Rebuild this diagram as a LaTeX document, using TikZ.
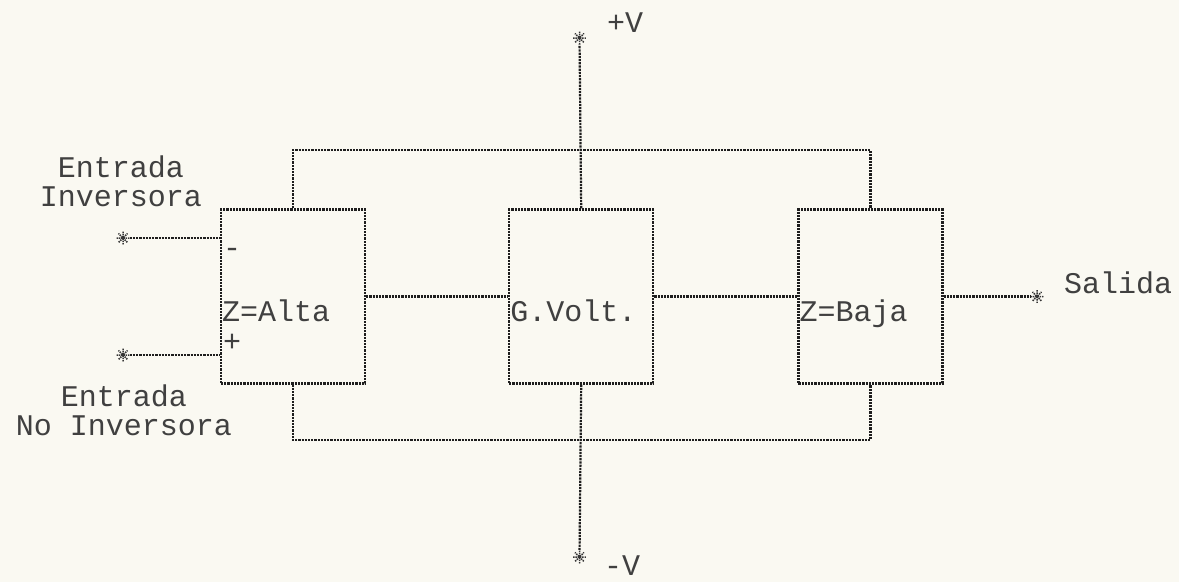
\documentclass[tikz,border=0pt]{standalone}
\usepackage{fontspec}
\setmonofont{Liberation Mono}
\usepackage{xcolor}
\usepackage{tikz}
\usetikzlibrary{positioning}
\definecolor{papel}{RGB}{250,249,242}
\definecolor{tinta}{RGB}{30,30,30}
\tikzset{
        linea/.style={tinta, line width=2.2pt, dash pattern=on 2.2pt off 1pt}, % dotted printer line
        borne/.style={circle, inner sep=0pt, minimum size=13pt, % terminal mark
            path picture={
                \draw[tinta!90, line width=1.5pt, dash pattern=on 1.5pt off 0.8pt]
                    (path picture bounding box.0) -- (path picture bounding box.180)
                    (path picture bounding box.45) -- (path picture bounding box.225)
                    (path picture bounding box.90) -- (path picture bounding box.270)
                    (path picture bounding box.135) -- (path picture bounding box.315);
            }},
        texto/.style={tinta!85, inner sep=0pt, font=\ttfamily\fontsize{30}{29}\selectfont, align=center},
    }
\tikzstyle{bloque}=[linea,draw,minimum width=144pt,minimum height=174pt,inner sep=0pt]

\begin{document}
\begin{tikzpicture}[x=1pt,y=-1pt]
    \fill[papel] (0,0) rectangle (1179,582);
    \useasboundingbox (0,0) rectangle (1179,582);

    % the three stages
    \node[bloque] (alta) at (293,296.5) {};
    \node[bloque, right=142pt of alta] (volt) {};
    \node[bloque, right=143pt of volt] (baja) {};
    \node[texto, anchor=base west, xshift=2pt, yshift=-25pt] (talta) at (alta.west) {Z=Alta};
    \node[texto, anchor=base west, xshift=2pt, yshift=-25pt] (tvolt) at (volt.west) {G.Volt.};
    \node[texto, anchor=base west, xshift=2pt, yshift=-25pt] (tbaja) at (baja.west) {Z=Baja};
    \node[texto, anchor=west, xshift=3pt, yshift=43.5pt] (menos) at (alta.west) {-};
    \node[texto, anchor=west, xshift=3pt, yshift=-46pt] (mas) at (alta.west) {+};

    % terminals
    \node[borne] (inv) at (123,238) {};
    \node[borne] (noinv) at (123,355) {};
    \node[borne] (sal) at (1037,296.5) {};
    \node[borne] (vmas) at (579.5,38) {};
    \node[borne] (vmenos) at (579.5,557) {};
    \coordinate (barrasup) at (579.5,150);
    \coordinate (barrainf) at (579.5,440);

    % labels
    \node[texto] (lbinv) at (121,181) {Entrada\\Inversora};
    \node[texto] (lbnoinv) at (124,410.5) {Entrada\\No Inversora};
    \node[texto] (lbsal) at (1118,283) {Salida};
    \node[texto] (lbvmas) at (625,23) {+V};
    \node[texto] (lbvmenos) at (622,566) {-V};

    % connections
    \draw[linea] (inv) -- (inv -| alta.west);
    \draw[linea] (noinv) -- (noinv -| alta.west);
    \draw[linea] (alta.east) -- (volt.west);
    \draw[linea] (volt.east) -- (baja.west);
    \draw[linea] (baja.east) -- (sal);
    \draw[linea] (volt.north) -- (vmas);
    \draw[linea] (volt.south) -- (vmenos);
    \draw[linea] (alta.north) |- (barrasup) -| (baja.north);
    \draw[linea] (alta.south) |- (barrainf) -| (baja.south);
\end{tikzpicture}
\end{document}
